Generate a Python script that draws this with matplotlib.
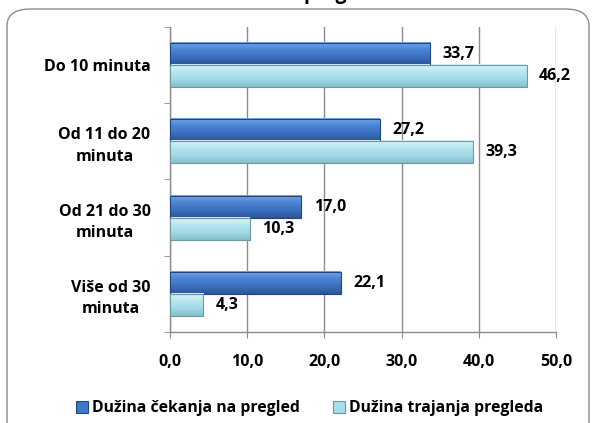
import matplotlib.pyplot as plt
import numpy as np
from matplotlib.patches import FancyBboxPatch
from matplotlib.colors import LinearSegmentedColormap

categories = ["Do 10 minuta", "Od 11 do 20\nminuta", "Od 21 do 30\nminuta", "Više od 30\nminuta"]
cekanje = [33.7, 27.2, 17.0, 22.1]
trajanje = [46.2, 39.3, 10.3, 4.3]
series_names = ["Dužina čekanja na pregled", "Dužina trajanja pregleda"]
x_ticks = [0, 10, 20, 30, 40, 50]

DARK = "#3C72C2"
DARK_EDGE = "#24467F"
LIGHT = "#A8DEEA"
LIGHT_EDGE = "#6E98A3"
GRID = "#8C8C8C"

dark_cmap = LinearSegmentedColormap.from_list("dk", ["#76A6E6", "#4B83D2", "#3A6FBE", "#2C5697"])
light_cmap = LinearSegmentedColormap.from_list("lt", ["#DDF5FA", "#B6E6F0", "#A2D9E6", "#86BFCC"])

plt.rcParams["font.family"] = ["Open Sans", "DejaVu Sans"]
plt.rcParams["font.weight"] = "bold"
FS = 11.5

fig = plt.figure(figsize=(5.92, 4.23), dpi=100)

# rounded outer frame, behind everything
frame = FancyBboxPatch((7 / 592, -0.05), 582 / 592, 1 - 9 / 423 + 0.05,
                       boxstyle="round,pad=0,rounding_size=0.04",
                       transform=fig.transFigure, fc="white", ec=GRID,
                       lw=1.0, zorder=-5)
fig.patches.append(frame)

# title, cut off at the top of the image (only descenders show)
fig.text(0.585, 1 + 1 / 423, "pregleda", ha="center", va="baseline", fontsize=14,
         fontweight="bold")

ax = fig.add_axes([170 / 592, 1 - 332 / 423, 386 / 592, 305 / 423])
ax.patch.set_alpha(0)
y = np.arange(len(categories))
h = 0.29
bars1 = ax.barh(y - h / 2, cekanje, height=h, color=DARK, edgecolor=DARK_EDGE, lw=0.8,
                label=series_names[0], zorder=4)
bars2 = ax.barh(y + h / 2, trajanje, height=h, color=LIGHT, edgecolor=LIGHT_EDGE, lw=0.8,
                label=series_names[1], zorder=4)

# vertical gradient fill inside each bar
grad = np.linspace(0, 1, 64).reshape(-1, 1)
for bars, cmap in [(bars1, dark_cmap), (bars2, light_cmap)]:
    for rect in bars:
        x0, y0 = rect.get_x(), rect.get_y()
        w, hh = rect.get_width(), rect.get_height()
        ax.imshow(grad, extent=(x0, x0 + w, y0, y0 + hh), origin="lower",
                  aspect="auto", cmap=cmap, zorder=3.5, interpolation="bilinear")
        rect.set_facecolor("none")

for yi, v in zip(y, cekanje):
    ax.text(v + 1.6, yi - h / 2, f"{v:.1f}".replace(".", ","), va="center",
            ha="left", fontsize=FS, fontweight="bold")
for yi, v in zip(y, trajanje):
    ax.text(v + 1.6, yi + h / 2, f"{v:.1f}".replace(".", ","), va="center",
            ha="left", fontsize=FS, fontweight="bold")

ax.set_xlim(0, 50)
ax.set_ylim(len(categories) - 0.5, -0.5)
ax.set_xticks(x_ticks)
ax.set_xticklabels([f"{t:.1f}".replace(".", ",") for t in x_ticks],
                   fontsize=FS, fontweight="bold")
ax.set_yticks(y)
ax.set_yticklabels(categories, fontsize=FS, fontweight="bold", ha="right",
                   multialignment="center", linespacing=1.45)
ax.tick_params(axis="y", length=0, pad=14)
ax.set_yticks(np.arange(len(categories) + 1) - 0.5, minor=True)
ax.tick_params(axis="y", which="minor", length=4, color=GRID)
ax.tick_params(axis="x", length=4, color=GRID, pad=12)

ax.grid(axis="x", color=GRID, lw=1.0, zorder=0)
for s in ["top", "right"]:
    ax.spines[s].set_visible(False)
for s in ["left", "bottom"]:
    ax.spines[s].set_color(GRID)
    ax.spines[s].set_linewidth(1.0)

leg = fig.legend(handles=[bars1, bars2], labels=series_names, loc="center",
                 bbox_to_anchor=(0.523, 1 - 408 / 423), ncol=2,
                 frameon=False, handlelength=0.8, handleheight=0.8,
                 handletextpad=0.25, columnspacing=2.1,
                 prop={"weight": "bold", "size": 11.3})
for patch, col in zip(leg.get_patches(), ["#3F77C8", "#A8DEEA"]):
    patch.set_facecolor(col)

fig.savefig("out.png", dpi=100)
